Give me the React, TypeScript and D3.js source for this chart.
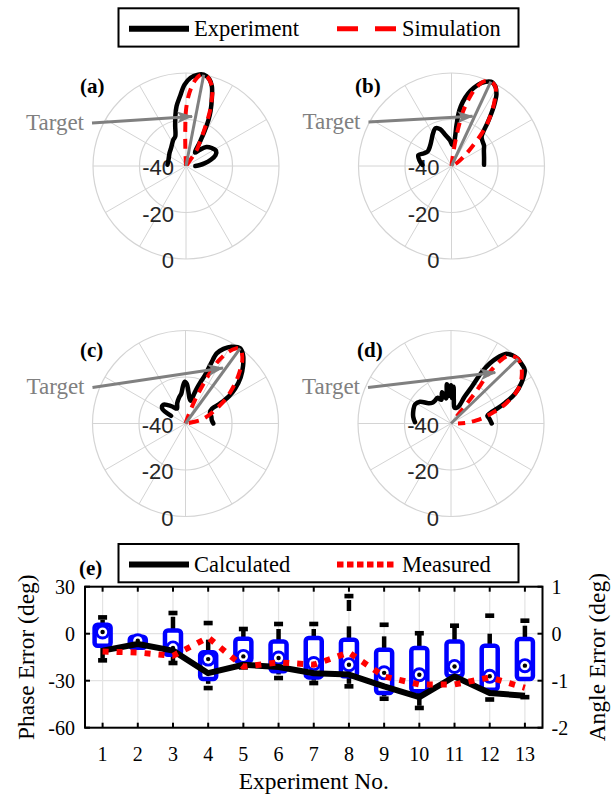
import React from "react";
import * as d3 from "d3";

// ---------- polar panels (a)-(d): [angle deg, gain dB] ----------
const panelLabels = ["(a)", "(b)", "(c)", "(d)"];
const steerAngles = [11, 25, 36, 46];
const targetTipAngles = [7, 23, 34, 41];
const targetTipLevels = [-18.5, -16.8, -11.2, -11];
const ringTicks = [-40, -20, 0];

const experimentA = [
  [-86, -32], [-70, -32], [-52, -31], [-40, -30], [-26, -27.5], [-20, -26.5], [-15, -22],
  [-12, -18], [-9, -14], [-5, -10], [-1, -5], [3, -2], [7, -0.5], [11, 0], [15, -1.3],
  [18, -4], [21, -9], [24, -14], [26, -18], [28, -23], [30, -28], [34, -33], [40, -31],
  [47, -28], [55, -26.5], [63, -25.5], [70, -26.5], [76, -29], [82, -32], [86, -34], [90, -36],
];
const simulationA = [
  [-4, -40], [-2, -31], [-1, -23], [0, -16], [2, -10], [4, -6], [6, -3], [8, -1], [11, 0],
  [14, -0.8], [17, -3], [19, -5], [21, -9], [23, -13], [25, -18], [27, -23], [30, -28],
  [34, -32], [38, -40],
];
const experimentB = [
  [-88, -27.5], [-80, -26], [-72, -25], [-65, -27], [-58, -28], [-48, -27.5], [-38, -26],
  [-30, -24], [-23, -22.4], [-17, -23.5], [-12, -26], [-8, -27.5], [-3, -29], [2, -31],
  [6, -30], [7, -22], [8, -16], [10, -12], [13, -8], [16, -5], [20, -2], [25, 0], [29, -1],
  [32, -3.5], [35, -8], [38, -13], [40, -16], [43, -20], [46, -22], [52, -23], [58, -23.5],
  [64, -24.5], [75, -25.5], [88, -26],
];
const simulationB = [
  [6, -40], [8, -33], [10, -24], [12, -16], [15, -9], [18, -4], [21, -1], [25, 0], [29, -1],
  [32, -4.5], [35, -8.5], [38, -13], [40, -16], [43, -21], [47, -28], [52, -33], [60, -37],
  [65, -40],
];
const experimentC = [
  [-62, -33], [-57, -28], [-50, -27.5], [-44, -29], [-37, -31], [-30, -32.6], [-22, -30.5],
  [-14, -28.5], [-8, -27], [-4, -24], [-1, -22], [2, -23], [5, -26], [9, -29], [13, -30],
  [16, -27], [18, -24], [20, -21], [22, -17.6], [23, -12], [24, -7], [27, -4], [31, -1.5],
  [36, 0], [40, -1.5], [45, -5], [50, -9], [55, -14], [58, -18], [60, -23], [61, -27],
  [66, -28.5], [75, -28.5], [83, -28.6], [90, -28],
];
const simulationC = [
  [18, -40], [20, -36], [22, -29], [24, -22.8], [26, -15], [28, -9], [31, -4], [34, -1],
  [36, 0], [39, -1.4], [42, -3.5], [45, -6.5], [48, -9.5], [51, -12.6], [55, -16.5],
  [59, -20], [63, -24], [70, -29], [77, -33.5], [85, -40],
];
const experimentD = [
  [-88, -24.5], [-80, -23.5], [-70, -22.8], [-62, -22.5], [-55, -23.7], [-48, -27],
  [-42, -28], [-35, -28], [-28, -27.5], [-22, -29], [-16, -26], [-11, -29], [-6, -23],
  [-3, -28], [0, -23.5], [2, -29], [4, -24.2], [7, -30], [12, -33], [18, -33], [24, -32],
  [27, -27], [29.5, -22], [31, -14], [33, -9], [35.5, -5], [38, -2], [42, -0.5], [46, 0],
  [50, -0.3], [54, -0.8], [60, -5], [65, -9.6], [69, -15], [72, -19], [75, -22.5],
  [78, -24], [82, -23.5], [86, -23], [90, -22.5],
];
const simulationD = [
  [39, -36], [38.5, -28], [38, -22], [37, -14], [38, -6], [40, -2], [43, -0.5], [46, 0],
  [50, -0.7], [55, -2.8], [60, -5.5], [64, -8.5], [68, -12.7], [72, -17], [75, -21],
  [79, -25], [83, -29], [87, -33], [90, -37],
];
const experimentSeries = [experimentA, experimentB, experimentC, experimentD];
const simulationSeries = [simulationA, simulationB, simulationC, simulationD];

// ---------- panel (e) ----------
const experimentNos = [1, 2, 3, 4, 5, 6, 7, 8, 9, 10, 11, 12, 13];
const phaseQ1 = [-7.7, -9, -13.4, -28.9, -17.7, -24, -27.9, -27.2, -37.8, -36.8, -27.2, -35.7, -28.9];
const phaseQ3 = [5.7, -2, 2.1, -11.9, -3.2, -4.9, -2.8, -3.8, -10.2, -9.1, -4.9, -7.7, -3.4];
const phaseMedian = [1.1, -4.5, -9.1, -16.2, -14.5, -15.5, -19.1, -19.8, -25, -26.2, -20.9, -27.2, -20.4];
const phaseWhiskerHi = [8.9, -1, 10.8, -3.8, 3, 3, 3, 4.7, -1.7, 0, 5.1, 0, 5.1];
const phaseWhiskerLo = [-15.5, -10, -17.7, -32, -20, -26, -30, -32, -40, -46, -27.2, -38, -28.9];
const phaseMarks = [
  [10.4, -17], [], [13.2, -18.7], [6.8, -34.7], [3, -21.5], [6.2, -28.3], [6.2, -31.5],
  [24, -33.6], [5.7, -41.5], [0.3, -47.4], [5.1], [11.5, -42], [8.3, -40.5],
];
// dense outlier runs drawn as a thin bar [top, bottom]
const phaseOutlierRuns = [null, null, null, null, null, null, null, [21.5, 14.5], null, null, null, null, null];
const calculatedAngle = [-0.36, -0.22, -0.36, -0.84, -0.66, -0.71, -0.84, -0.87, -1.12, -1.35, -0.91, -1.26, -1.32];
const measuredAngle = [-0.38, -0.4, -0.47, -0.08, -0.7, -0.61, -0.66, -0.4, -0.91, -1.08, -1.08, -0.93, -1.15];
const phaseTicks = [30, 0, -30, -60];
const angleTicks = [1, 0, -1, -2];

const SERIF = "'Liberation Serif', 'Times New Roman', serif";
const SANS = "'Liberation Sans', Arial, sans-serif";
const GRAY = "#808080";

const R = 93;
const layout = [
  { cx: 186, cy: 166, lx: 80, ly: 93, ax: -94, ay: -43 },
  { cx: 451.5, cy: 166, lx: 355, ly: 93, ax: -83, ay: -44 },
  { cx: 185.5, cy: 423.5, lx: 80, ly: 357, ax: -93, ay: -36 },
  { cx: 451, cy: 423.5, lx: 357, ly: 357, ax: -83, ay: -36 },
];

const rScale = d3.scaleLinear().domain([-40, 0]).range([0, R]).clamp(true);
const radial = d3
  .lineRadial<number[]>()
  .angle((d) => (d[0] * Math.PI) / 180)
  .radius((d) => rScale(d[1]))
  .curve(d3.curveCatmullRom.alpha(0.5));

const polar = (deg: number, rad: number) => [
  rad * Math.sin((deg * Math.PI) / 180),
  -rad * Math.cos((deg * Math.PI) / 180),
];

function PolarPanel({ i }: { i: number }) {
  const L = layout[i];
  const [sx, sy] = polar(steerAngles[i], R);
  const [tx, ty] = polar(targetTipAngles[i], rScale(targetTipLevels[i]));
  return (
    <g>
      <g transform={`translate(${L.cx},${L.cy})`}>
        {d3.range(0, 360, 30).map((a) => {
          const [x, y] = polar(a, R);
          return <line key={a} x1={0} y1={0} x2={x} y2={y} stroke="#d4d4d4" strokeWidth={1} />;
        })}
        {[-20, 0].map((v) => (
          <circle key={v} r={rScale(v)} fill="none" stroke="#d4d4d4" strokeWidth={1.2} />
        ))}
        {ringTicks.map((v) => (
          <text key={v} x={-12} y={rScale(v) + 9} textAnchor="end" fontFamily={SANS} fontSize={22} fill="#262626">
            {v}
          </text>
        ))}
        <path d={radial(experimentSeries[i]) || ""} fill="none" stroke="#000" strokeWidth={4.5} strokeLinejoin="round" strokeLinecap="round" />
        <path d={radial(simulationSeries[i]) || ""} fill="none" stroke="#ff0000" strokeWidth={4} strokeDasharray="10 7" />
        <line x1={0} y1={0} x2={sx} y2={sy} stroke={GRAY} strokeWidth={3} />
        <line x1={L.ax} y1={L.ay} x2={tx} y2={ty} stroke={GRAY} strokeWidth={3} markerEnd="url(#arrowHead)" />
        <text x={L.ax - 8} y={L.ay + 6.5} textAnchor="end" fontFamily={SERIF} fontSize={23} fill={GRAY}>
          Target
        </text>
      </g>
      <text x={L.lx} y={L.ly} fontFamily={SERIF} fontWeight="bold" fontSize={21}>
        {panelLabels[i]}
      </text>
    </g>
  );
}

function ErrorPanel() {
  const left = 85, right = 542.5, top = 586.7, bottom = 727.7;
  const x = d3.scaleLinear().domain([0.5, 13.5]).range([left, right]);
  const yL = d3.scaleLinear().domain([-60, 30]).range([bottom, top]);
  const yR = d3.scaleLinear().domain([-2, 1]).range([bottom, top]);
  const lineAngle = d3.line<number>().x((_, k) => x(experimentNos[k])).y((d) => yR(d));
  const hw = 8;
  return (
    <g>
      {/* grid */}
      {experimentNos.map((n) => (
        <line key={n} x1={x(n)} x2={x(n)} y1={top} y2={bottom} stroke="#e3e3e3" strokeWidth={1.2} />
      ))}
      {phaseTicks.map((t) => (
        <line key={t} x1={left} x2={right} y1={yL(t)} y2={yL(t)} stroke="#e3e3e3" strokeWidth={1.2} />
      ))}
      {/* ticks */}
      {experimentNos.map((n) => (
        <g key={n}>
          <line x1={x(n)} x2={x(n)} y1={bottom} y2={bottom - 5} stroke="#000" strokeWidth={2} />
          <line x1={x(n)} x2={x(n)} y1={top} y2={top + 5} stroke="#000" strokeWidth={2} />
          <text x={x(n)} y={761} textAnchor="middle" fontFamily={SERIF} fontSize={20}>
            {n}
          </text>
        </g>
      ))}
      {phaseTicks.map((t) => (
        <g key={t}>
          <line x1={left} x2={left + 5} y1={yL(t)} y2={yL(t)} stroke="#000" strokeWidth={2} />
          <text x={75} y={yL(t) + 7} textAnchor="end" fontFamily={SERIF} fontSize={20}>
            {t}
          </text>
        </g>
      ))}
      {angleTicks.map((t) => (
        <g key={t}>
          <line x1={right} x2={right - 5} y1={yR(t)} y2={yR(t)} stroke="#000" strokeWidth={2} />
          <text x={551.5} y={yR(t) + 7} fontFamily={SERIF} fontSize={20}>
            {t}
          </text>
        </g>
      ))}
      {/* boxes */}
      {experimentNos.map((n, k) => {
        const cx = x(n);
        const run = phaseOutlierRuns[k];
        return (
          <g key={n}>
            {phaseWhiskerHi[k] > phaseQ3[k] && (
              <line x1={cx} x2={cx} y1={yL(phaseQ3[k])} y2={yL(phaseWhiskerHi[k])} stroke="#000" strokeWidth={4.5} />
            )}
            {phaseWhiskerLo[k] < phaseQ1[k] && (
              <line x1={cx} x2={cx} y1={yL(phaseQ1[k])} y2={yL(phaseWhiskerLo[k])} stroke="#000" strokeWidth={4.5} />
            )}
            {run && <line x1={cx} x2={cx} y1={yL(run[0])} y2={yL(run[1])} stroke="#000" strokeWidth={4.5} />}
            {phaseMarks[k].map((m, j) => (
              <rect key={j} x={cx - 4.5} y={yL(m) - 2.3} width={9} height={4.6} fill="#000" />
            ))}
            <rect
              x={cx - hw}
              y={yL(phaseQ3[k])}
              width={hw * 2}
              height={yL(phaseQ1[k]) - yL(phaseQ3[k])}
              rx={3}
              fill="#fff"
              stroke="#0000ff"
              strokeWidth={4.5}
            />
            <circle cx={cx} cy={yL(phaseMedian[k])} r={7.5} fill="#0000ff" />
            <circle cx={cx} cy={yL(phaseMedian[k])} r={4.6} fill="#fff" />
            <circle cx={cx} cy={yL(phaseMedian[k])} r={2.2} fill="#000" />
          </g>
        );
      })}
      <path d={lineAngle(calculatedAngle) || ""} fill="none" stroke="#000" strokeWidth={6} strokeLinejoin="round" />
      <path d={lineAngle(measuredAngle) || ""} fill="none" stroke="#ff0000" strokeWidth={6} strokeDasharray="6 8" />
      <rect x={left} y={top} width={right - left} height={bottom - top} fill="none" stroke="#000" strokeWidth={2} />
      <text x={79} y={575} fontFamily={SERIF} fontWeight="bold" fontSize={21}>
        (e)
      </text>
      <text x={(left + right) / 2} y={789} textAnchor="middle" fontFamily={SERIF} fontSize={23.5}>
        Experiment No.
      </text>
      <text transform={`translate(34,${(top + bottom) / 2}) rotate(-90)`} textAnchor="middle" fontFamily={SERIF} fontSize={23.5}>
        Phase Error (deg)
      </text>
      <text transform={`translate(605,${(top + bottom) / 2}) rotate(-90)`} textAnchor="middle" fontFamily={SERIF} fontSize={23.5}>
        Angle Error (deg)
      </text>
    </g>
  );
}

function Legend({ y, entries }: { y: number; entries: { label: string; color: string; dash?: string; w: number }[] }) {
  const xs = [129, 337];
  return (
    <g>
      <rect x={118.5} y={y} width={400} height={38.3} fill="#fff" stroke="#000" strokeWidth={2} />
      {entries.map((e, k) => (
        <g key={e.label}>
          <line x1={xs[k]} x2={xs[k] + 60} y1={y + 20.5} y2={y + 20.5} stroke={e.color} strokeWidth={e.w} strokeDasharray={e.dash} />
          <text x={xs[k] + 65} y={y + 28} fontFamily={SERIF} fontSize={22.5}>
            {e.label}
          </text>
        </g>
      ))}
    </g>
  );
}

export default function App() {
  return (
    <svg width={615} height={798} style={{ position: "absolute", left: 0, top: 0, background: "#fff" }}>
      <defs>
        <marker id="arrowHead" viewBox="0 0 16 12" markerWidth={16} markerHeight={12} refX={15} refY={6} orient="auto" markerUnits="userSpaceOnUse">
          <path d="M0,0 L16,6 L0,12 L4,6 Z" fill={GRAY} />
        </marker>
      </defs>
      <Legend
        y={8.3}
        entries={[
          { label: "Experiment", color: "#000", w: 6 },
          { label: "Simulation", color: "#ff0000", dash: "21 17", w: 5 },
        ]}
      />
      {[0, 1, 2, 3].map((i) => (
        <PolarPanel key={i} i={i} />
      ))}
      <ErrorPanel />
      <Legend
        y={544}
        entries={[
          { label: "Calculated", color: "#000", w: 6 },
          { label: "Measured", color: "#ff0000", dash: "6.5 3.5", w: 6 },
        ]}
      />
    </svg>
  );
}
